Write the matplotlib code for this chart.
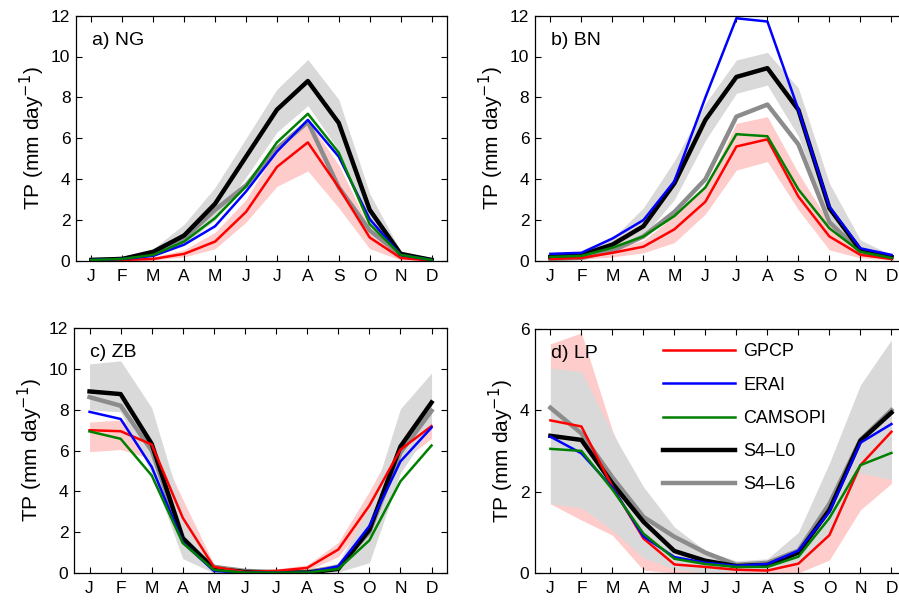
import matplotlib
matplotlib.use("Agg")
import matplotlib.pyplot as plt
import numpy as np

plt.rcParams['font.family'] = ['Liberation Sans', 'DejaVu Sans']

months = ['J', 'F', 'M', 'A', 'M', 'J', 'J', 'A', 'S', 'O', 'N', 'D']
names = ['GPCP', 'ERAI', 'CAMSOPI', 'S4–L0', 'S4–L6']

# a) NG
ng_gpcp = [0.02, 0.05, 0.1, 0.35, 0.95, 2.4, 4.6, 5.8, 3.6, 1.15, 0.15, 0.02]
ng_gpcp_lo = [0, 0, 0.05, 0.2, 0.6, 1.9, 3.65, 4.4, 2.6, 0.6, 0.05, 0]
ng_gpcp_hi = [0.05, 0.1, 0.2, 0.55, 1.4, 3.0, 5.5, 6.9, 4.7, 1.6, 0.3, 0.05]
ng_erai = [0.05, 0.1, 0.25, 0.8, 1.7, 3.4, 5.35, 6.9, 5.1, 2.05, 0.3, 0.05]
ng_cams = [0.05, 0.1, 0.3, 0.95, 2.1, 3.65, 5.8, 7.2, 5.3, 1.8, 0.3, 0.05]
ng_l0 = [0.05, 0.1, 0.45, 1.25, 2.8, 5.1, 7.4, 8.8, 6.75, 2.5, 0.35, 0.05]
ng_l0_lo = [0, 0.05, 0.25, 0.8, 2.0, 4.1, 6.3, 7.6, 5.4, 1.9, 0.2, 0.02]
ng_l0_hi = [0.1, 0.2, 0.6, 1.8, 3.6, 6.0, 8.4, 9.85, 7.9, 3.3, 0.5, 0.1]
ng_l6 = [0.05, 0.1, 0.35, 1.1, 2.5, 3.7, 5.5, 6.8, 3.6, 1.5, 0.3, 0.05]

# b) BN
bn_gpcp = [0.1, 0.15, 0.4, 0.7, 1.55, 2.9, 5.6, 5.95, 3.15, 1.2, 0.3, 0.1]
bn_gpcp_lo = [0.05, 0.08, 0.2, 0.4, 0.9, 2.3, 4.45, 4.86, 2.5, 0.54, 0.15, 0.05]
bn_gpcp_hi = [0.15, 0.25, 0.6, 1.0, 2.2, 3.6, 6.73, 7.06, 4.3, 1.86, 0.78, 0.15]
bn_erai = [0.35, 0.4, 1.1, 2.0, 3.9, 8.0, 11.87, 11.71, 7.4, 2.66, 0.62, 0.3]
bn_cams = [0.2, 0.25, 0.65, 1.2, 2.2, 3.6, 6.2, 6.1, 3.5, 1.6, 0.45, 0.15]
bn_l0 = [0.2, 0.3, 0.8, 1.7, 3.8, 6.9, 9.0, 9.43, 7.39, 2.58, 0.54, 0.2]
bn_l0_lo = [0.1, 0.2, 0.6, 1.2, 3.0, 5.9, 8.2, 8.6, 6.1, 1.85, 0.3, 0.1]
bn_l0_hi = [0.35, 0.45, 1.1, 2.6, 4.9, 7.7, 9.83, 10.2, 8.46, 3.8, 1.03, 0.3]
bn_l6 = [0.1, 0.15, 0.5, 1.2, 2.4, 4.0, 7.06, 7.65, 5.7, 1.9, 0.45, 0.15]

# c) ZB
zb_gpcp = [7.0, 6.95, 6.3, 2.7, 0.3, 0.05, 0.1, 0.25, 1.15, 3.3, 6.05, 7.2]
zb_gpcp_lo = [5.95, 6.05, 5.6, 1.9, 0.15, 0.02, 0.05, 0.12, 0.8, 2.7, 5.4, 6.6]
zb_gpcp_hi = [7.4, 7.5, 6.9, 3.6, 0.45, 0.1, 0.2, 0.4, 1.5, 4.0, 6.8, 7.6]
zb_erai = [7.9, 7.55, 5.2, 1.5, 0.1, 0.02, 0.02, 0.02, 0.33, 2.3, 5.47, 7.13]
zb_cams = [6.94, 6.58, 4.78, 1.47, 0.15, 0.02, 0.02, 0.02, 0.2, 1.6, 4.49, 6.25]
zb_l0 = [8.9, 8.77, 6.33, 1.71, 0.2, 0.05, 0.02, 0.02, 0.2, 2.12, 6.2, 8.36]
zb_l0_lo = [8.0, 7.9, 4.9, 0.7, 0.0, 0.0, 0.0, 0.0, 0.05, 0.5, 4.9, 7.2]
zb_l0_hi = [10.25, 10.4, 8.1, 3.0, 0.4, 0.1, 0.05, 0.05, 0.5, 3.2, 8.05, 9.8]
zb_l6 = [8.62, 8.2, 6.0, 1.6, 0.3, 0.1, 0.05, 0.05, 0.3, 2.0, 5.9, 7.95]

# d) LP
lp_gpcp = [3.75, 3.6, 2.12, 0.85, 0.21, 0.15, 0.08, 0.06, 0.23, 0.93, 2.65, 3.47]
lp_gpcp_lo = [1.7, 1.3, 0.93, 0.07, 0.0, 0.0, 0.0, 0.0, 0.0, 0.32, 1.55, 2.2]
lp_gpcp_hi = [5.63, 5.9, 3.5, 1.8, 0.8, 0.4, 0.2, 0.2, 0.6, 2.1, 4.0, 5.0]
lp_erai = [3.35, 2.94, 2.1, 0.9, 0.39, 0.25, 0.18, 0.22, 0.55, 1.5, 3.2, 3.66]
lp_cams = [3.05, 3.0, 2.05, 0.97, 0.35, 0.22, 0.15, 0.15, 0.4, 1.35, 2.65, 2.95]
lp_l0 = [3.37, 3.27, 2.2, 1.26, 0.54, 0.3, 0.17, 0.2, 0.5, 1.55, 3.25, 3.94]
lp_l0_lo = [1.7, 1.6, 1.05, 0.37, 0.1, 0.0, 0.05, 0.05, 0.2, 0.9, 2.46, 2.29]
lp_l0_hi = [5.04, 4.95, 3.44, 2.12, 1.13, 0.55, 0.3, 0.35, 1.0, 2.7, 4.62, 5.73]
lp_l6 = [4.06, 3.43, 2.35, 1.38, 0.89, 0.5, 0.2, 0.25, 0.55, 1.7, 3.27, 4.0]

panels = [
    ('a) NG', 12, ng_gpcp, ng_gpcp_lo, ng_gpcp_hi, ng_erai, ng_cams, ng_l0, ng_l0_lo, ng_l0_hi, ng_l6),
    ('b) BN', 12, bn_gpcp, bn_gpcp_lo, bn_gpcp_hi, bn_erai, bn_cams, bn_l0, bn_l0_lo, bn_l0_hi, bn_l6),
    ('c) ZB', 12, zb_gpcp, zb_gpcp_lo, zb_gpcp_hi, zb_erai, zb_cams, zb_l0, zb_l0_lo, zb_l0_hi, zb_l6),
    ('d) LP', 6, lp_gpcp, lp_gpcp_lo, lp_gpcp_hi, lp_erai, lp_cams, lp_l0, lp_l0_lo, lp_l0_hi, lp_l6),
]

# axes boxes in figure fraction (right column runs past the edge)
boxes = [
    [0.0845, 0.565, 0.4127, 0.409],
    [0.595, 0.565, 0.4138, 0.409],
    [0.0823, 0.045, 0.415, 0.408],
    [0.595, 0.045, 0.4138, 0.407],
]

fig = plt.figure(figsize=(8.99, 6.0), dpi=100)
x = np.arange(1, 13)

for i, (title, ymax, gp, gp_lo, gp_hi, er, cm, l0, l0_lo, l0_hi, l6) in enumerate(panels):
    ax = fig.add_axes(boxes[i])
    ax.fill_between(x, gp_lo, gp_hi, color='#ffcccc', lw=0)
    ax.fill_between(x, l0_lo, l0_hi, color='#d9d9d9', lw=0)
    h5, = ax.plot(x, l6, color='#8c8c8c', lw=3.2)
    h4, = ax.plot(x, l0, color='k', lw=3.2)
    h1, = ax.plot(x, gp, color='#ff0000', lw=1.8)
    h2, = ax.plot(x, er, color='#0000ff', lw=1.8)
    h3, = ax.plot(x, cm, color='#008000', lw=1.8)

    ax.set_xlim(0.5, 12.5)
    ax.set_ylim(0, ymax)
    ax.set_xticks(x)
    ax.set_xticklabels(months)
    ax.set_yticks(np.arange(0, ymax + 1, 2))
    ax.tick_params(direction='in', top=True, right=True, length=4, width=0.8,
                   labelsize=12.5)
    ax.tick_params(axis='x', pad=6)
    ax.tick_params(axis='y', pad=4)
    for sp in ax.spines.values():
        sp.set_linewidth(0.9)
    ax.set_ylabel('TP (mm day$^{-1}$)', fontsize=15, labelpad=3)
    ax.text(0.043, 0.935, title, transform=ax.transAxes, fontsize=14,
            va='top', ha='left')

    if i == 3:
        ax.legend([h1, h2, h3, h4, h5], names, loc='upper left',
                  bbox_to_anchor=(0.344, 0.94), frameon=False, fontsize=13,
                  handlelength=4.0, handletextpad=0.45, labelspacing=0.9,
                  borderpad=0, borderaxespad=0)

fig.savefig('out.png', dpi=100)
